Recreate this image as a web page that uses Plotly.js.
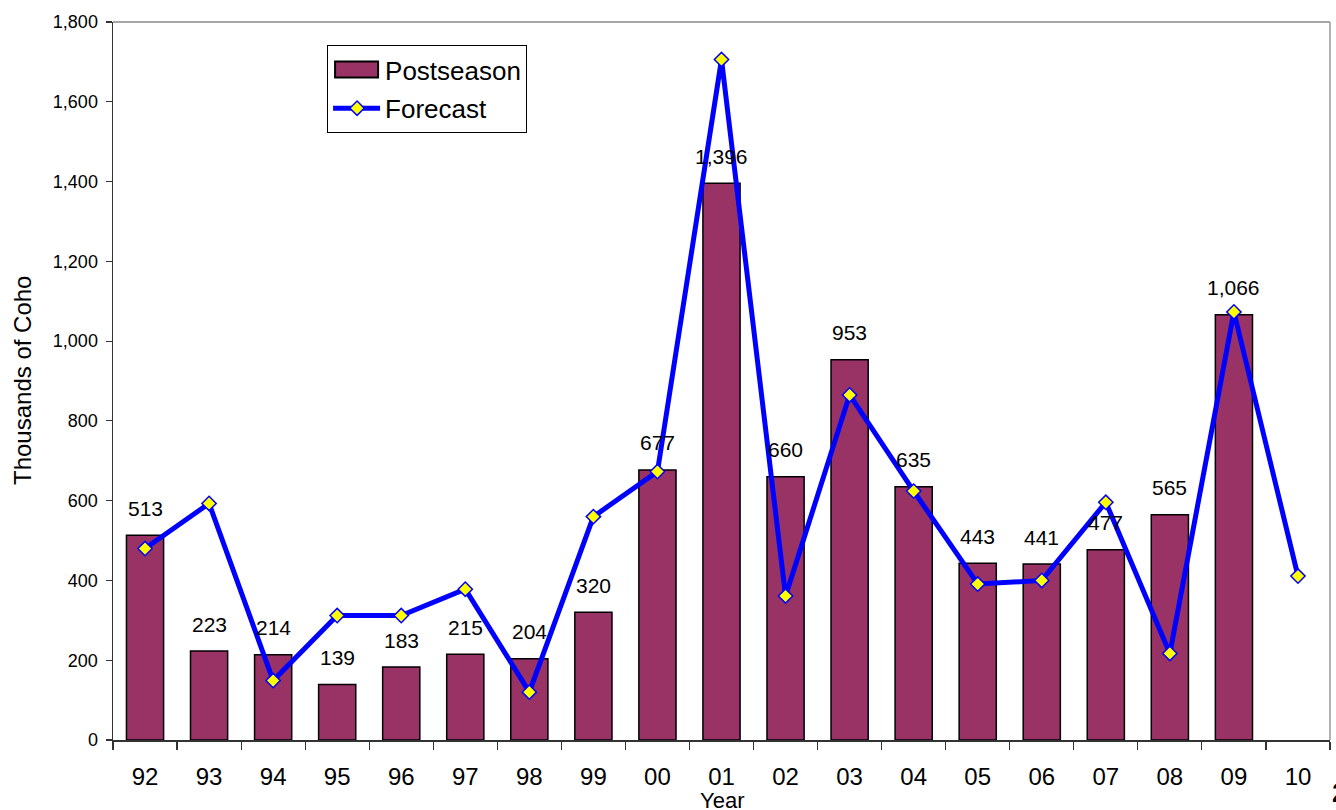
<!DOCTYPE html>
<html>
<head>
<meta charset="utf-8">
<script src="https://cdn.plot.ly/plotly-3.0.1.min.js"></script>
<style>
  html, body { margin: 0; padding: 0; background: #ffffff; }
  #chart { width: 1336px; height: 810px; }
</style>
</head>
<body>
<div id="chart"></div>
<script>
// ---- Data ----
const years = ['92','93','94','95','96','97','98','99','00','01','02','03','04','05','06','07','08','09','10'];
const postseason = [513, 223, 214, 139, 183, 215, 204, 320, 677, 1396, 660, 953, 635, 443, 441, 477, 565, 1066, null];
const forecast = [480, 593, 149, 312, 312, 378, 120, 560, 673, 1706, 361, 865, 624, 391, 400, 596, 217, 1073, 411];
const seriesNames = ['Postseason', 'Forecast'];
const yTitle = 'Thousands of Coho';
const xTitle = 'Year';
const pageMark = '2';

const FONT = 'Liberation Sans, Arial, Helvetica, sans-serif';

const traces = [
  {
    type: 'bar',
    name: seriesNames[0],
    legendgroup: 'g1',
    x: years,
    y: postseason,
    marker: { color: '#993366', line: { color: '#000000', width: 1.5 } },
    hoverinfo: 'x+y'
  },
  {
    type: 'scatter',
    mode: 'lines+markers',
    name: seriesNames[1],
    legendgroup: 'g2',
    x: years,
    y: forecast,
    line: { color: '#0000FF', width: 5 },
    marker: { symbol: 'diamond', size: 11, color: '#FFFF00', line: { color: '#0000FF', width: 1.5 } },
    cliponaxis: false
  }
];

const annotations = [];
years.forEach((yr, i) => {
  const v = postseason[i];
  if (v === null || v === undefined) return;
  annotations.push({
    x: i, y: v, xref: 'x', yref: 'y',   // i = category index of years[i]
    text: v.toLocaleString('en-US'),
    showarrow: false, yanchor: 'middle', yshift: 27,
    font: { family: FONT, size: 21, color: '#000000' }
  });
});
annotations.push({
  xref: 'paper', yref: 'paper', x: 0.5, y: 0, xanchor: 'center', yanchor: 'middle',
  yshift: -60, text: xTitle, showarrow: false,
  font: { family: FONT, size: 22, color: '#000000' }
});
annotations.push({
  xref: 'paper', yref: 'paper', x: 0, y: 0.5, xanchor: 'center', yanchor: 'middle',
  xshift: -91, textangle: -90, text: yTitle, showarrow: false,
  font: { family: FONT, size: 24, color: '#000000' }
});
annotations.push({
  xref: 'paper', yref: 'paper', x: 1, y: 0, xanchor: 'left', yanchor: 'middle',
  xshift: 0, yshift: -52, text: '<b>' + pageMark + '</b>', showarrow: false,
  font: { family: FONT, size: 28, color: '#000000' }
});

const layout = {
  width: 1336, height: 810,
  margin: { l: 113, r: 6, t: 22, b: 70, pad: 0 },
  paper_bgcolor: '#ffffff', plot_bgcolor: '#ffffff',
  font: { family: FONT, color: '#000000' },
  bargap: 0.42,
  showlegend: true,
  legend: {
    x: 0.1759, y: 0.968, xanchor: 'left', yanchor: 'top',
    bgcolor: '#ffffff', bordercolor: '#000000', borderwidth: 1,
    font: { family: FONT, size: 26, color: '#000000' },
    traceorder: 'grouped', tracegroupgap: 2,
    itemwidth: 47
  },
  xaxis: {
    type: 'category',
    range: [-0.5, years.length - 0.5],
    autorange: false,
    tickson: 'boundaries',
    tickangle: 0,
    ticks: 'outside', ticklen: 8, tickcolor: '#333333', tickwidth: 1.2,
    showline: true, linecolor: '#333333', linewidth: 1.5,
    showgrid: false, zeroline: false,
    tickfont: { family: FONT, size: 24, color: '#000000' },
    ticklabelstandoff: 15,
    fixedrange: true
  },
  yaxis: {
    range: [0, 1800], autorange: false, dtick: 200, tickformat: ',d',
    ticks: 'outside', ticklen: 6, tickcolor: '#333333', tickwidth: 1.2,
    showline: true, linecolor: '#333333', linewidth: 1.5,
    showgrid: false, zeroline: false,
    tickfont: { family: FONT, size: 18, color: '#000000' },
    ticklabelstandoff: 4,
    fixedrange: true
  },
  shapes: [
    { type: 'line', xref: 'paper', yref: 'paper', x0: 0, x1: 1, y0: 1, y1: 1,
      line: { color: '#888888', width: 1.5 }, layer: 'below' },
    { type: 'line', xref: 'paper', yref: 'paper', x0: 1, x1: 1, y0: 0, y1: 1,
      line: { color: '#999999', width: 1.5 }, layer: 'below' }
  ],
  annotations: annotations
};

Plotly.newPlot('chart', traces, layout, { displayModeBar: false, staticPlot: true }).then(gd => {
  // Reshape legend swatches to resemble the reference's wide rectangle / long line
  const items = gd.querySelectorAll('.legend .traces');
  items.forEach(item => {
    const pts = item.querySelector('.legendpoints');
    if (!pts) return;
    pts.querySelectorAll('path').forEach(p => {
      const cls = p.getAttribute('class') || '';
      if (cls.indexOf('js-line') >= 0) {
        p.removeAttribute('transform');
        p.setAttribute('d', 'M8,0H52');
      } else if (cls.indexOf('scatterpts') >= 0) {
        p.setAttribute('transform', 'translate(29,0)');
      } else if (cls.indexOf('legend') >= 0 && cls.indexOf('legendfill') < 0) {
        // bar swatch
        p.removeAttribute('transform');
        p.setAttribute('d', 'M7,-8H50V8H7Z');
        p.style.strokeWidth = '2px';
      }
    });
  });
});
</script>
</body>
</html>
